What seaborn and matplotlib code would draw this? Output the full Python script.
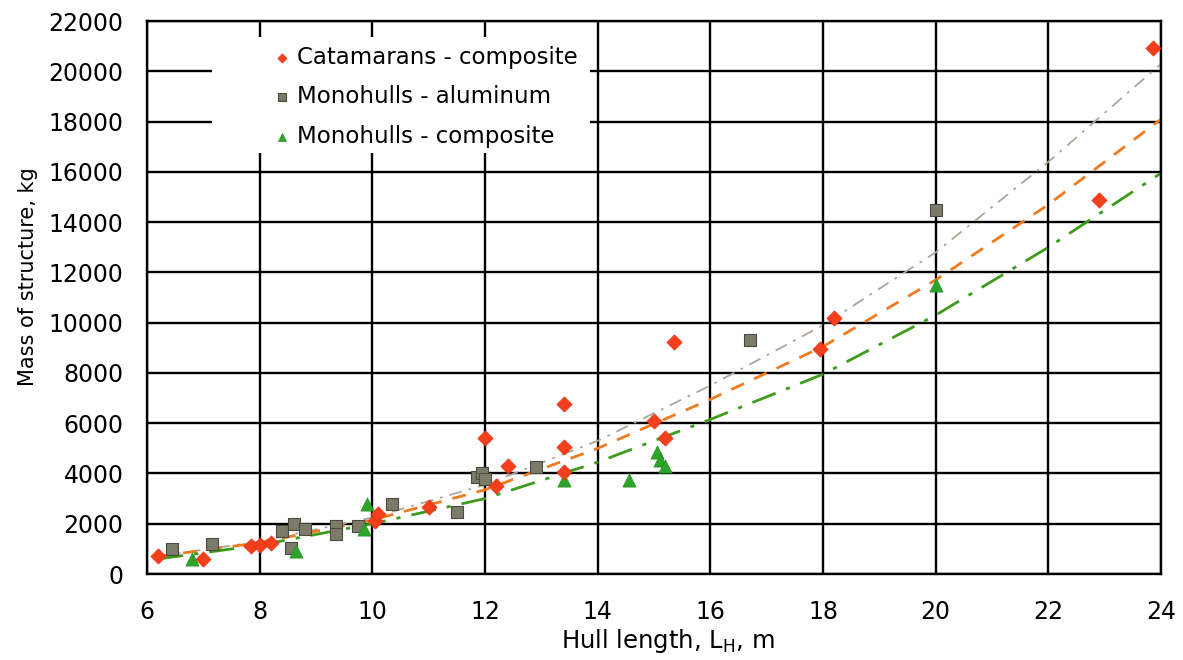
import matplotlib
matplotlib.use("Agg")
import matplotlib.pyplot as plt
from matplotlib.patches import Rectangle
import pandas as pd
import seaborn as sns

# catamarans - composite
cat_len = [6.2, 7.0, 7.85, 8.0, 8.2, 10.05, 10.1, 11.0, 12.0, 12.2, 12.4,
           13.4, 13.4, 13.4, 15.0, 15.2, 15.35, 17.95, 18.2, 22.9, 23.85]
cat_mass = [700, 600, 1100, 1150, 1250, 2100, 2400, 2650, 5400, 3500, 4300,
            6750, 5050, 4050, 6100, 5400, 9250, 8950, 10200, 14900, 20950]

# monohulls - aluminum
alu_len = [6.45, 7.15, 8.4, 8.6, 8.8, 8.55, 9.35, 9.35, 9.75, 10.35, 11.5,
           11.85, 11.95, 12.0, 12.9, 16.7, 20.0]
alu_mass = [1000, 1200, 1700, 2000, 1800, 1050, 1900, 1600, 1900, 2800, 2450,
            3850, 4000, 3800, 4250, 9300, 14500]

# monohulls - composite
comp_len = [6.8, 8.65, 9.85, 9.9, 13.4, 14.55, 15.05, 15.1, 15.2, 20.0]
comp_mass = [600, 900, 1800, 2800, 3750, 3750, 4850, 4550, 4300, 11500]

# trend curves
trend_len = [6.2, 8, 10, 12, 14, 16, 18, 20, 22, 24]
trend_alu = [700, 1300, 2250, 3550, 5300, 7500, 9900, 12800, 16400, 20300]
trend_cat = [700, 1250, 2150, 3350, 5000, 6950, 9050, 11700, 14700, 18100]
trend_comp = [600, 1150, 2000, 3000, 4450, 6150, 7950, 10300, 13000, 15950]

x_ticks = list(range(6, 25, 2))
y_ticks = list(range(0, 22001, 2000))

cat_df = pd.DataFrame({"L": cat_len, "M": cat_mass})
alu_df = pd.DataFrame({"L": alu_len, "M": alu_mass})
comp_df = pd.DataFrame({"L": comp_len, "M": comp_mass})
trend_df = pd.DataFrame({"L": trend_len, "alu": trend_alu,
                         "cat": trend_cat, "comp": trend_comp})

sns.set_theme(style="white")
plt.rcParams["font.family"] = ["DejaVu Sans"]

fig, ax = plt.subplots(figsize=(11.83, 6.6), dpi=100)
fig.subplots_adjust(left=0.1243, right=0.9814, bottom=0.1303, top=0.968)

# trend lines
sns.lineplot(ax=ax, data=trend_df, x="L", y="alu", color="#ada596",
             linewidth=1.3, linestyle=(0, (7, 4, 1.5, 4)), zorder=2)
sns.lineplot(ax=ax, data=trend_df, x="L", y="cat", color="#f07a1e",
             linewidth=2.0, linestyle=(0, (5, 4)), zorder=2)
sns.lineplot(ax=ax, data=trend_df, x="L", y="comp", color="#3c9c1c",
             linewidth=2.0, linestyle=(0, (9, 4, 1.5, 4)), zorder=2)

# data points
sns.scatterplot(ax=ax, data=cat_df, x="L", y="M", marker="D", s=60,
                color="#f2401c", edgecolor="#e83010", linewidth=0.5,
                label="Catamarans - composite", zorder=4)
sns.scatterplot(ax=ax, data=alu_df, x="L", y="M", marker="s", s=85,
                color="#7c7b6a", edgecolor="#4a4a40", linewidth=0.8,
                label="Monohulls - aluminum", zorder=3)
sns.scatterplot(ax=ax, data=comp_df, x="L", y="M", marker="^", s=90,
                color="#2ea52a", edgecolor="#1f8f1f", linewidth=0.5,
                label="Monohulls - composite", zorder=3)

ax.set_xlim(6, 24)
ax.set_ylim(0, 22000)
ax.set_xticks(x_ticks)
ax.set_yticks(y_ticks)
ax.set_xticklabels([str(v) for v in x_ticks])
ax.set_yticklabels([str(v) for v in y_ticks])
ax.tick_params(axis="both", length=0, labelsize=17, colors="black")
ax.tick_params(axis="x", pad=19)
ax.tick_params(axis="y", pad=17)

ax.set_axisbelow(True)
ax.grid(True, color="black", linewidth=1.7)
for sp in ax.spines.values():
    sp.set_color("black")
    sp.set_linewidth(1.7)

# white background behind legend (hides grid)
ax.add_patch(Rectangle((0.0641, 0.7613), 0.3728, 0.2098, transform=ax.transAxes,
                       facecolor="white", edgecolor="none", zorder=1))

leg = ax.legend(loc="upper left", bbox_to_anchor=(0.1243, 0.9556),
                frameon=False, fontsize=16.5, borderpad=0, borderaxespad=0,
                handlelength=0.8, handletextpad=0.25, labelspacing=0.72,
                markerscale=0.6)
leg.set_zorder(5)
for t in leg.get_texts():
    t.set_color("black")

ax.set_xlabel("Hull length, L$_\\mathrm{H}$, m", fontsize=17.5, color="black")
ax.set_ylabel("Mass of structure, kg", fontsize=15, color="black")
ax.xaxis.set_label_coords(0.514, -0.096)
ax.yaxis.set_label_coords(-0.1075, 0.537)

fig.savefig("out.png", dpi=100)
